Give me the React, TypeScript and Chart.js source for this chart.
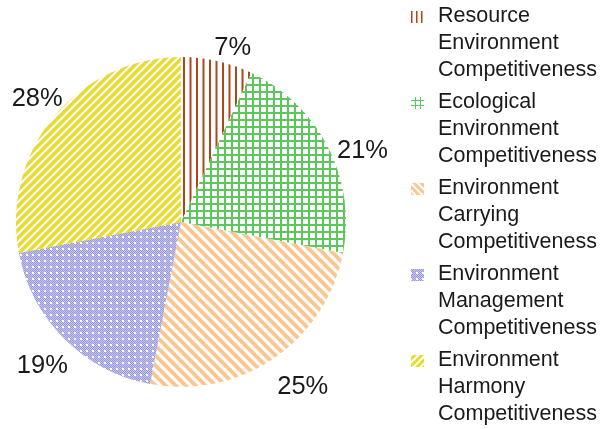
import React, { useEffect, useRef } from "react";
import { Chart, registerables } from "chart.js";

Chart.register(...registerables);

const categories = [
  ["Resource", "Environment", "Competitiveness"],
  ["Ecological", "Environment", "Competitiveness"],
  ["Environment", "Carrying", "Competitiveness"],
  ["Environment", "Management", "Competitiveness"],
  ["Environment", "Harmony", "Competitiveness"],
];
const values = [7, 21, 25, 19, 28];
const percentLabels = ["7%", "21%", "25%", "19%", "28%"];
const colors = ["#b0441a", "#5cc85c", "#fcc690", "#9a9ad8", "#e6dc30"];

function makePattern(kind: number, small = false): CanvasPattern | string {
  const c = document.createElement("canvas");
  const x = c.getContext("2d")!;
  const col = colors[kind];
  if (kind === 0) {
    const p = small ? 5 : 6.5;
    c.width = Math.round(p * 2); c.height = 4;
    x.fillStyle = col;
    x.fillRect(1, 0, small ? 1.5 : 2, 4);
    x.fillRect(1 + p, 0, small ? 1.5 : 2, 4);
  } else if (kind === 1) {
    const p = small ? 5 : 7;
    c.width = p; c.height = p;
    x.fillStyle = col;
    x.fillRect(0, 0, p, small ? 1 : 2);
    x.fillRect(0, 0, small ? 1 : 2, p);
  } else if (kind === 2) {
    const p = small ? 7 : 10;
    c.width = p; c.height = p;
    x.strokeStyle = col;
    x.lineWidth = small ? 3 : 4;
    for (let k = -1; k <= 1; k++) {
      x.beginPath();
      x.moveTo(k * p - 2, -2);
      x.lineTo(k * p + p + 2, p + 2);
      x.stroke();
    }
  } else if (kind === 3) {
    c.width = 6; c.height = 6;
    x.fillStyle = col;
    for (let i = 0; i < 6; i++)
      for (let j = 0; j < 6; j++)
        if ((i + j) % 2 === 0) x.fillRect(i, j, 1, 1);
    x.fillStyle = "#c4c4ec";
    for (let i = 0; i < 6; i++)
      for (let j = 0; j < 6; j++)
        if ((i + j) % 2 === 1) x.fillRect(i, j, 1, 1);
    x.fillStyle = "#ffffff";
    x.fillRect(2, 2, 2, 2);
  } else {
    const p = small ? 7 : 8;
    c.width = p; c.height = p;
    x.strokeStyle = col;
    x.lineWidth = small ? 3 : 3.5;
    for (let k = -1; k <= 1; k++) {
      x.beginPath();
      x.moveTo(k * p - 2, p + 2);
      x.lineTo(k * p + p + 2, -2);
      x.stroke();
    }
  }
  return x.createPattern(c, "repeat")!;
}

const FONT = "Liberation Sans, Arial, Helvetica, sans-serif";
// small "best fit" nudges of the percentage labels (px)
const LABEL_NUDGE = [
  [11, 8],
  [4, 19],
  [12, 3],
  [1, 4],
  [9, 3],
];

export default function App() {
  const ref = useRef<HTMLCanvasElement>(null);
  useEffect(() => {
    const patterns = values.map((_, i) => makePattern(i));
    const swatches = values.map((_, i) => makePattern(i, true));
    const overlay = {
      id: "overlay",
      afterDraw(chart: any) {
        const ctx = chart.ctx;
        const meta = chart.getDatasetMeta(0);
        ctx.save();
        ctx.fillStyle = "#1a1a1a";
        ctx.font = `25.5px ${FONT}`;
        ctx.textAlign = "center";
        ctx.textBaseline = "middle";
        meta.data.forEach((arc: any, i: number) => {
          const a = (arc.startAngle + arc.endAngle) / 2;
          const dx = Math.cos(a), dy = Math.sin(a);
          const w = ctx.measureText(percentLabels[i]).width;
          const h = 24;
          const r = arc.outerRadius + 6 + Math.abs(dx) * w / 2 + Math.abs(dy) * h / 2;
          ctx.fillText(
            percentLabels[i],
            arc.x + dx * r + LABEL_NUDGE[i][0],
            arc.y + dy * r + LABEL_NUDGE[i][1]
          );
        });
        // legend
        ctx.textAlign = "left";
        ctx.font = `21.5px ${FONT}`;
        categories.forEach((lines, i) => {
          const y0 = 16 + i * 86;
          ctx.fillStyle = swatches[i];
          ctx.fillRect(411, y0 - 5, 13, 12);
          ctx.fillStyle = "#1a1a1a";
          lines.forEach((t, j) => ctx.fillText(t, 438, y0 + j * 27));
        });
        ctx.restore();
      },
    };
    const chart = new Chart(ref.current!, {
      type: "pie",
      data: {
        labels: categories.map((l) => l.join(" ")),
        datasets: [
          {
            data: values,
            backgroundColor: patterns as any,
            borderWidth: 0,
          },
        ],
      },
      options: {
        animation: false,
        responsive: false,
        layout: { padding: { left: 16, right: 259, top: 57, bottom: 42 } },
        plugins: { legend: { display: false }, tooltip: { enabled: false } },
      },
      plugins: [overlay],
    });
    return () => chart.destroy();
  }, []);
  return (
    <div style={{ position: "fixed", left: 0, top: 0, width: 605, height: 429, background: "#fff" }}>
      <canvas ref={ref} width={605} height={429} style={{ width: 605, height: 429 }} />
    </div>
  );
}
